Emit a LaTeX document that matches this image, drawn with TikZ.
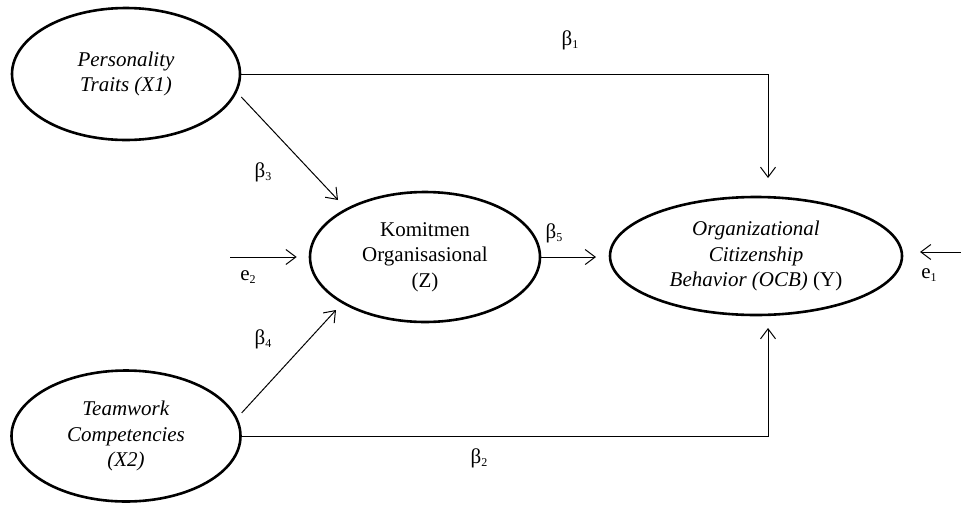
\documentclass[tikz,border=0pt]{standalone}
\usepackage{fontspec}
\setmainfont{Liberation Serif}
\usetikzlibrary{shapes.geometric,arrows.meta,calc}
\tikzset{
  latent/.style={draw, ellipse, line width=2.6pt, inner sep=0pt, align=center,
    font=\fontsize{21}{25.5}\selectfont},
  conn/.style={line width=1pt, -{Straight Barb[length=10pt,width=15pt,line width=1pt]}},
  lbl/.style={font=\fontsize{21}{25}\selectfont, inner sep=0pt}
}
\newcommand{\bsub}[1]{β\raisebox{-0.15em}{\fontsize{12}{12}\selectfont #1}}
\newcommand{\esub}[1]{e\raisebox{-0.15em}{\fontsize{12}{12}\selectfont #1}}
\begin{document}
\begin{tikzpicture}[x=1pt,y=-1pt]
\useasboundingbox (0,0) rectangle (961,504);
% latent variables
\node[latent, minimum width=228pt, minimum height=132pt] (X1) at (126,74) {\textit{Personality}\\\textit{Traits (X1)}};
\node[latent, minimum width=229pt, minimum height=131pt] (X2) at (126,436) {\textit{Teamwork}\\\textit{Competencies}\\\textit{(X2)}};
\node[latent, minimum width=230pt, minimum height=130pt] (Z) at (425,257) {Komitmen\\Organisasional\\(Z)};
\node[latent, minimum width=292pt, minimum height=118pt] (Y) at (756,256) {\textit{Organizational}\\\textit{Citizenship}\\\textit{Behavior (OCB)} (Y)};
% free ends
\coordinate (t1) at (768,178);
\coordinate (t2) at (768,328);
\coordinate (t3) at (338,200);
\coordinate (t4) at (336,310);
\coordinate (t5) at (596,257);
\coordinate (e2s) at (230,257);
\coordinate (e1s) at (961,252);
\coordinate (e1t) at (920,252);
% connectors
\draw[conn] (X1.east) -| (t1);
\draw[conn] (X2.east) -| (t2);
\draw[conn] ([xshift=7pt]X1.-12) -- (t3);
\draw[conn] ([xshift=7pt]X2.12) -- (t4);
\draw[conn] (e2s) -- ([xshift=-12pt]Z.west);
\draw[conn] (Z.east) -- (Z.east -| t5);
\draw[conn] (e1s) -- (e1t);
% labels
\node[lbl] (b1) at (570,40) {\bsub{1}};
\node[lbl] (b2) at (479,458) {\bsub{2}};
\node[lbl] (b3) at (263,172) {\bsub{3}};
\node[lbl] (b4) at (263,339) {\bsub{4}};
\node[lbl] (b5) at (554,233) {\bsub{5}};
\node[lbl] (le2) at (248,277) {\esub{2}};
\node[lbl] (le1) at (929,275) {\esub{1}};
\end{tikzpicture}
\end{document}
